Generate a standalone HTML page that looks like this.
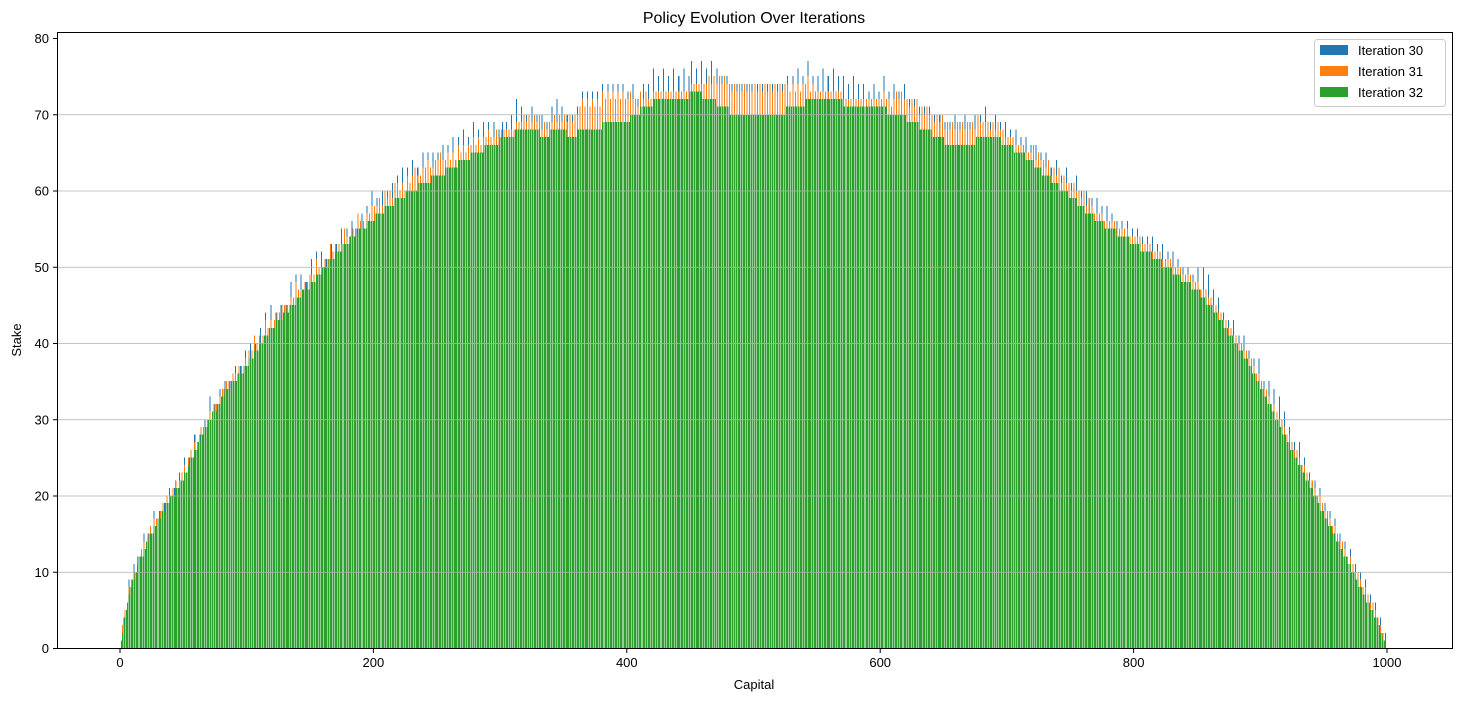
<!DOCTYPE html>
<html><head><meta charset="utf-8"><style>
html,body{margin:0;padding:0;background:#fff;}
svg text{font-family:"Liberation Sans","DejaVu Sans",sans-serif;fill:#000;}
</style></head><body>
<svg id="chart" width="1461" height="701" viewBox="0 0 1461 701" xmlns="http://www.w3.org/2000/svg">
<rect x="0" y="0" width="1461" height="701" fill="#fff"/>
<text x="754" y="23" font-size="16" text-anchor="middle">Policy Evolution Over Iterations</text>
<g id="bars" shape-rendering="crispEdges"></g>
<g id="grid"></g>
<rect x="57.5" y="32.5" width="1395" height="616" fill="none" stroke="#000" stroke-width="1"/>
<g id="ticks"></g>
<text x="754" y="689" font-size="13" text-anchor="middle">Capital</text>
<text x="0" y="0" font-size="13" text-anchor="middle" transform="translate(21,340) rotate(-90)">Stake</text>
<g>
<rect x="1314.5" y="39.5" width="131" height="67" rx="3" fill="#fff" fill-opacity="0.8" stroke="#ccc"/>
<rect x="1320" y="45" width="28" height="10" fill="#1f77b4"/>
<text x="1358" y="55" font-size="13">Iteration 30</text>
<rect x="1320" y="66" width="28" height="10" fill="#ff7f0e"/>
<text x="1358" y="76" font-size="13">Iteration 31</text>
<rect x="1320" y="87" width="28" height="10" fill="#2ca02c"/>
<text x="1358" y="97" font-size="13">Iteration 32</text>
</g>
</svg>
<script>
const xTicks = [0, 200, 400, 600, 800, 1000];
const yTicks = [0, 10, 20, 30, 40, 50, 60, 70, 80];
const iter32 = [
1,2,3,4,5,6,7,8,8,9,9,10,10,11,11,12,12,12,13,13,14,14,14,15,15,15,16,16,16,17,17,17,18,18,18,19,19,19,19,20,20,20,20,21,21,21,21,22,22,22,
23,23,23,24,24,25,25,25,26,26,26,27,27,28,28,28,29,29,29,30,30,30,31,31,31,31,32,32,32,33,33,33,33,34,34,34,34,35,35,35,35,35,36,36,36,36,36,37,37,37,
37,38,38,38,38,39,39,39,39,40,40,40,40,41,41,41,41,42,42,42,42,42,43,43,43,43,43,43,44,44,44,44,44,45,45,45,45,45,46,46,46,46,46,47,47,47,47,47,47,48,
48,48,48,48,49,49,49,49,49,50,50,50,50,50,51,51,51,51,51,52,52,52,52,52,52,53,53,53,53,53,53,54,54,54,54,54,54,55,55,55,55,55,55,55,56,56,56,56,56,56,
56,57,57,57,57,57,57,57,58,58,58,58,58,58,58,58,59,59,59,59,59,59,59,59,59,60,60,60,60,60,60,60,60,60,60,61,61,61,61,61,61,61,61,61,61,62,62,62,62,62,
62,62,62,62,62,62,63,63,63,63,63,63,63,63,63,63,64,64,64,64,64,64,64,64,64,64,65,65,65,65,65,65,65,65,65,65,65,66,66,66,66,66,66,66,66,66,66,66,66,67,
67,67,67,67,67,67,67,67,67,67,67,68,68,68,68,68,68,68,68,68,68,68,68,68,68,68,68,68,68,68,68,67,67,67,67,67,67,67,67,68,68,68,68,68,68,68,68,68,68,68,
68,68,67,67,67,67,67,67,67,67,68,68,68,68,68,68,68,68,68,68,68,68,68,68,68,68,68,68,68,68,69,69,69,69,69,69,69,69,69,69,69,69,69,69,69,69,69,69,69,69,
69,69,70,70,70,70,70,70,70,70,71,71,71,71,71,71,71,71,71,71,72,72,72,72,72,72,72,72,72,72,72,72,72,72,72,72,72,72,72,72,72,72,72,72,72,72,72,72,72,73,
73,73,73,73,73,73,73,73,73,72,72,72,72,72,72,72,72,72,72,72,71,71,71,71,71,71,71,71,71,71,70,70,70,70,70,70,70,70,70,70,70,70,70,70,70,70,70,70,70,70,
70,70,70,70,70,70,70,70,70,70,70,70,70,70,70,70,70,70,70,70,70,70,70,70,70,71,71,71,71,71,71,71,71,71,71,71,71,71,71,71,72,72,72,72,72,72,72,72,72,72,
72,72,72,72,72,72,72,72,72,72,72,72,72,72,72,72,72,72,72,72,71,71,71,71,71,71,71,71,71,71,71,71,71,71,71,71,71,71,71,71,71,71,71,71,71,71,71,71,71,71,
71,71,71,71,71,70,70,70,70,70,70,70,70,70,70,70,70,70,70,70,69,69,69,69,69,69,69,69,69,69,68,68,68,68,68,68,68,68,68,68,67,67,67,67,67,67,67,67,67,67,
66,66,66,66,66,66,66,66,66,66,66,66,66,66,66,66,66,66,66,66,66,66,66,66,66,67,67,67,67,67,67,67,67,67,67,67,67,67,67,67,67,67,67,67,67,66,66,66,66,66,
66,66,66,66,66,65,65,65,65,65,65,65,65,65,64,64,64,64,64,64,64,63,63,63,63,63,63,62,62,62,62,62,62,62,61,61,61,61,61,61,61,60,60,60,60,60,60,60,59,59,
59,59,59,59,59,58,58,58,58,58,58,57,57,57,57,57,57,57,56,56,56,56,56,56,56,56,55,55,55,55,55,55,55,55,55,55,54,54,54,54,54,54,54,54,54,54,53,53,53,53,
53,53,53,53,53,52,52,52,52,52,52,52,52,52,51,51,51,51,51,51,51,51,50,50,50,50,50,50,50,50,49,49,49,49,49,49,49,48,48,48,48,48,48,48,48,47,47,47,47,47,
47,47,46,46,46,46,46,45,45,45,45,45,44,44,44,44,43,43,43,43,42,42,42,42,41,41,41,41,40,40,40,40,39,39,39,39,38,38,38,38,37,37,37,36,36,36,35,35,35,34,
34,34,33,33,33,32,32,32,31,31,31,30,30,30,29,29,29,28,28,28,27,27,27,26,26,26,25,25,25,24,24,24,23,23,23,22,22,22,21,21,21,20,20,20,19,19,19,18,18,18,
17,17,17,16,16,16,15,15,15,14,14,14,13,13,13,12,12,12,11,11,11,10,10,10,9,9,9,8,8,8,7,7,7,6,6,6,5,5,5,4,4,4,3,3,2,2,1,1,1];
// extra stake of iteration 31 above iteration 32, per capital (digits)
const iter31Extra = (
"01010010101001001010010100101001010010100101001010"+
"10010100101001010010100101001011010100101001010010"+
"01010201010010201010010101020101001010201010010101"+
"10102010100101020101001010201010010102010100101020"+
"20102010201020102020102010201020302010202030201020"+
"20302010201020102010201020102010201020102010102010"+
"10101010101010101020102010201020102010201020102010"+
"20203020302030403040304030403040304030403040304030"+
"30302020102010201010101010101010101010101010101010"+
"10101010102020302030304030403040304030403040304030"+
"40304030403040304030403040302030203020302030102010"+
"10101010101010101010101010101010101010101010101010"+
"10201020102030203020302030203020302030203020302030"+
"20302030203020302030203020302020202010201020102010"+
"10101010101010101010201020102010201020102010201020"+
"10201020102010201010101010101010101010101010101010"+
"10101010101010101010101010101010101010101010101010"+
"10101010101010101010101010101010101010101010101010"+
"10101010101010101010101010101010101010101010101010"+
"1010101010101010101010101010101010101010101010100").split("").map(Number);
// extra stake of iteration 30 above iteration 31, per capital (digits)
const iter30Extra = (
"00100010001000100010001000100010001000100010001000"+
"10001000100010001000200010001000200010001000100010"+
"00200010002000100020001000200010002000100020001000"+
"20001000200010002000100020001000200010002000100020"+
"00100020001000200010002000100020001000200010002000"+
"10002000100020001000200010002000100020001000200010"+
"02001000200030002000100020001000200010002000300020"+
"00100010001000100010001000100010001000100010001000"+
"10002000100020002000300020003000200030002000300020"+
"30002000300020003000200010001000100010001000100010"+
"00100010001000100010001000100010002000100020001000"+
"20003000200030002000300020003000200020001000200010"+
"00200010002000100020001000100010001000100010001000"+
"10001000200010002000100020001000200010002000100020"+
"00100020001000200010002000100020001000200010002000"+
"10002000100020001000200010002000100010001000100010"+
"00100010001000200010002000100020001000100010001000"+
"20003000300020002000100010002000100020001000100020"+
"00100020002000300020001000100020001000100010001000"+
"1000100010001000100010001000100010001000100010001").split("").map(Number);

const NS = "http://www.w3.org/2000/svg";
const X = v => 120 + v * 1.267;
const Y = v => 648 - v * 7.625;
const grid = document.getElementById("grid");
const ticks = document.getElementById("ticks");
const bars = document.getElementById("bars");

yTicks.forEach(t => {
  if (t > 0 && t < 80) {
    const g = document.createElementNS(NS, "line");
    
    
    g.setAttribute("x1", 57); g.setAttribute("x2", 1452);
    g.setAttribute("y1", Y(t) + 0.5); g.setAttribute("y2", Y(t) + 0.5);
    g.setAttribute("stroke", "#b0b0b0"); g.setAttribute("stroke-width", "0.8");
    grid.appendChild(g);
  }
  const tk = document.createElementNS(NS, "line");
  
  
  tk.setAttribute("x1", 53); tk.setAttribute("x2", 57);
  tk.setAttribute("y1", Y(t) + 0.5); tk.setAttribute("y2", Y(t) + 0.5);
  tk.setAttribute("stroke", "#000");
  ticks.appendChild(tk);
  const tx = document.createElementNS(NS, "text");
  
  
  tx.setAttribute("x", 49); tx.setAttribute("y", Y(t) + 5);
  tx.setAttribute("font-size", "13"); tx.setAttribute("text-anchor", "end");
  tx.textContent = t;
  ticks.appendChild(tx);
});
xTicks.forEach(t => {
  const tk = document.createElementNS(NS, "line");
  
  
  tk.setAttribute("x1", X(t)); tk.setAttribute("x2", X(t));
  tk.setAttribute("y1", 649); tk.setAttribute("y2", 653);
  tk.setAttribute("stroke", "#000");
  ticks.appendChild(tk);
  const tx = document.createElementNS(NS, "text");
  
  
  tx.setAttribute("x", X(t)); tx.setAttribute("y", 667);
  tx.setAttribute("font-size", "13"); tx.setAttribute("text-anchor", "middle");
  tx.textContent = t;
  ticks.appendChild(tx);
});

function drawBar(c, v, color, name) {
  if (v <= 0) return;
  const r = document.createElementNS(NS, "rect");
  
  
  r.setAttribute("x", X(c - 0.4));
  r.setAttribute("width", 1.267 * 0.8);
  r.setAttribute("y", Y(v));
  r.setAttribute("height", 648 - Y(v));
  r.setAttribute("fill", color);
  bars.appendChild(r);
}
const v31 = iter32.map((v, i) => v + (iter31Extra[i] || 0));
const v30 = v31.map((v, i) => v + (iter30Extra[i] || 0));
v30.forEach((v, i) => drawBar(i + 1, v, "#1f77b4", "bar-iteration-30"));
v31.forEach((v, i) => drawBar(i + 1, v, "#ff7f0e", "bar-iteration-31"));
iter32.forEach((v, i) => drawBar(i + 1, v, "#2ca02c", "bar-iteration-32"));
</script>
</body></html>
